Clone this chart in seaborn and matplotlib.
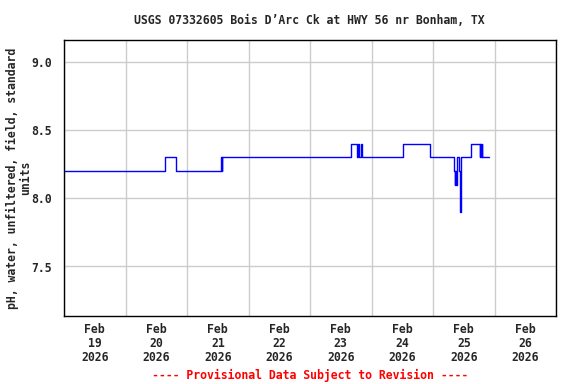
import numpy as np
import pandas as pd
import matplotlib
matplotlib.use("Agg")
import matplotlib.pyplot as plt
import matplotlib.dates as mdates
import seaborn as sns

# change points of the pH record (value holds until next time)
times = [
    "2026-02-19 00:00", "2026-02-20 15:30", "2026-02-20 19:45",
    "2026-02-21 13:15", "2026-02-21 13:30", "2026-02-21 13:45",
    "2026-02-23 16:00", "2026-02-23 18:15", "2026-02-23 18:45",
    "2026-02-23 19:15", "2026-02-23 19:45", "2026-02-23 20:15",
    "2026-02-24 12:15", "2026-02-24 22:45",
    "2026-02-25 08:15", "2026-02-25 08:30", "2026-02-25 08:45",
    "2026-02-25 09:00", "2026-02-25 09:15", "2026-02-25 09:30",
    "2026-02-25 10:00", "2026-02-25 10:30", "2026-02-25 10:45",
    "2026-02-25 11:00", "2026-02-25 14:45", "2026-02-25 18:15",
    "2026-02-25 18:30", "2026-02-25 18:45", "2026-02-25 19:00",
    "2026-02-25 19:15", "2026-02-25 21:45",
]
ph = [
    8.2, 8.3, 8.2,
    8.3, 8.2, 8.3,
    8.4, 8.3, 8.4,
    8.3, 8.4, 8.3,
    8.4, 8.3,
    8.2, 8.1, 8.2,
    8.1, 8.2, 8.3,
    8.2, 7.9, 8.2,
    8.3, 8.4, 8.3,
    8.4, 8.3, 8.4,
    8.3, 8.3,
]
yticks = [7.5, 8.0, 8.5, 9.0]
title = "USGS 07332605 Bois D\u2019Arc Ck at HWY 56 nr Bonham, TX"
ylabel = "pH, water, unfiltered, field, standard\nunits"
footer = "---- Provisional Data Subject to Revision ----"

df = pd.DataFrame({"time": pd.to_datetime(times), "ph": ph})

sns.set_style("white")
plt.rcParams["font.family"] = ["DejaVu Sans Mono"]
plt.rcParams["font.weight"] = "bold"
fs = 8.3

fig = plt.figure(figsize=(5.76, 3.84), dpi=100)
ax = fig.add_axes([64 / 576, 68 / 384, 492 / 576, 276 / 384])

sns.lineplot(data=df, x="time", y="ph", ax=ax, color="#0000ff",
             linewidth=1.0, drawstyle="steps-post", estimator=None)

ax.set_xlim(pd.Timestamp("2026-02-19"), pd.Timestamp("2026-02-27"))
ax.set_ylim(7.137, 9.161)

ax.xaxis.set_major_locator(mdates.DayLocator())
ax.xaxis.set_major_formatter(plt.NullFormatter())
ax.xaxis.set_minor_locator(mdates.HourLocator(byhour=12))
ax.xaxis.set_minor_formatter(mdates.DateFormatter("%b\n%d\n%Y"))
ax.tick_params(axis="x", which="both", length=0, pad=5, labelsize=fs)
ax.set_yticks(yticks)
ax.set_yticklabels([f"{v:.1f}" for v in yticks])
ax.tick_params(axis="y", length=0, pad=9, labelsize=fs)
for lab in ax.get_xticklabels(minor=True):
    lab.set_fontweight("bold")
    lab.set_linespacing(1.1)

ax.grid(True, which="major", color="#cccccc", linewidth=1.0)
for s in ax.spines.values():
    s.set_color("black")
    s.set_linewidth(1.0)

ax.set_xlabel("")
ax.set_ylabel(ylabel, fontsize=fs, fontweight="bold", linespacing=1.0,
              ha="center", va="center")
ax.yaxis.set_label_coords((19 - 64) / 492, 0.5)
fig.text(309 / 576, 1 - 20 / 384, title, ha="center", va="center",
         fontsize=fs, fontweight="bold")
fig.text(310 / 576, 1 - 375 / 384, footer, ha="center", va="center",
         fontsize=fs, fontweight="bold", color="red")

fig.savefig("out.png", dpi=100)
